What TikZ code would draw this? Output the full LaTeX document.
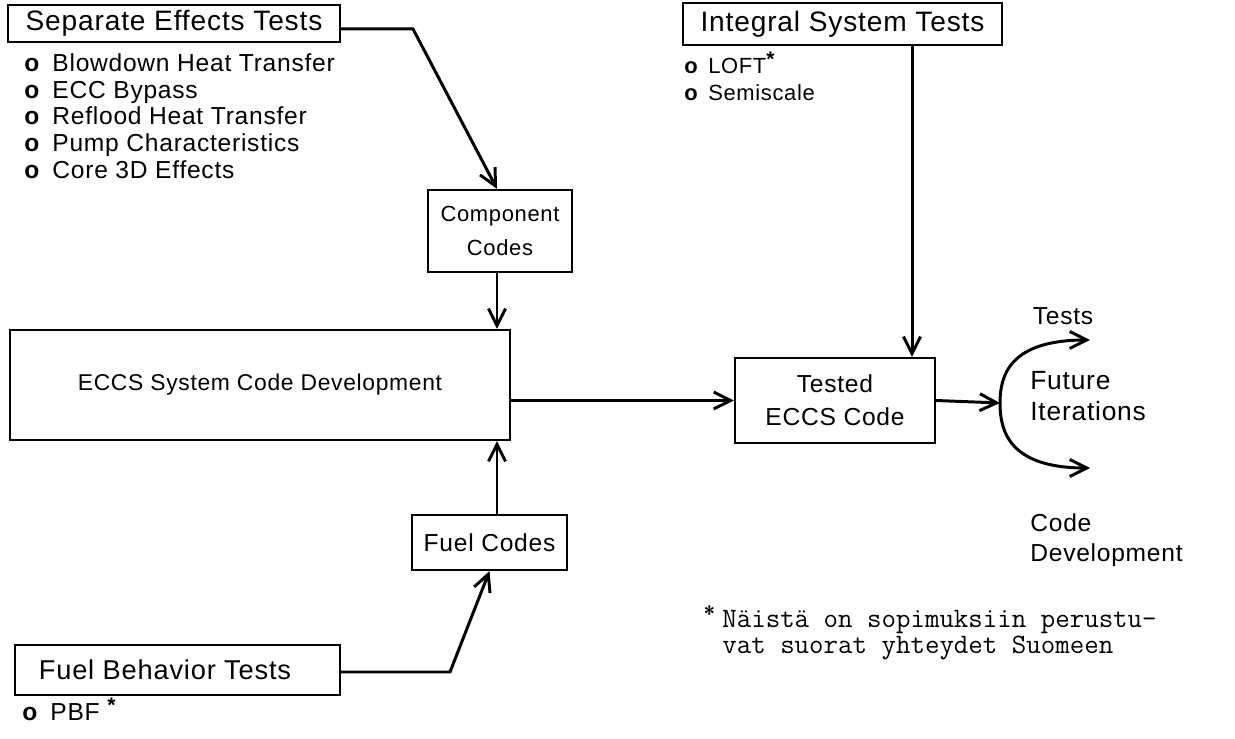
\documentclass[tikz,border=0pt]{standalone}
\usepackage{fontspec}
\setmainfont{Liberation Sans}[LetterSpace=3]
\usetikzlibrary{arrows.meta}
\newcommand{\bul}{\textbf{o}\enspace}
\newcommand{\astk}{\raisebox{0.55ex}{\bfseries\large *}}
\begin{document}
\begin{tikzpicture}[x=0.02cm,y=-0.02cm,>={Straight Barb[length=3.4mm,width=3.4mm]}]
\tikzstyle{every node}=[inner sep=0pt];
\tikzstyle{box}=[draw=black,line width=1.2pt,align=center,font=\fontsize{14}{19}\selectfont];
\tikzstyle{flow}=[->,line width=1.7pt];
\tikzstyle{items}=[anchor=north west,align=left,font=\fontsize{14}{15.3}\selectfont];
\useasboundingbox (0,0) rectangle (1235,739);
% boxes
\node[box,minimum width=6.64cm,minimum height=0.74cm,font=\fontsize{16}{19}\selectfont] (set) at (174,23.5) {Separate Effects Tests};
\node[box,minimum width=6.38cm,minimum height=0.84cm,font=\fontsize{16}{19}\selectfont] (ist) at (842.5,24) {Integral System Tests};
\node[box,minimum width=2.88cm,minimum height=1.64cm,font=\fontsize{12.5}{19}\selectfont] (comp) at (500,231) {Component\\Codes};
\node[box,minimum width=10cm,minimum height=2.2cm,font=\fontsize{13}{19}\selectfont] (eccs) at (260,385) {ECCS System Code Development};
\node[box,minimum width=4cm,minimum height=1.7cm] (tested) at (835,400.5) {Tested\\ECCS Code};
\node[box,minimum width=3.1cm,minimum height=1.1cm] (fuel) at (489.5,542.5) {Fuel Codes};
\node[box,minimum width=6.5cm,minimum height=1cm,font=\fontsize{15.5}{19}\selectfont] (fbt) at (177.5,670) {Fuel Behavior Tests\hspace{0.5cm}};
% lists
\node[items] (selist) at (24,53) {\bul Blowdown Heat Transfer\\ \bul ECC Bypass\\ \bul Reflood Heat Transfer\\ \bul Pump Characteristics\\ \bul Core 3D Effects};
\node[items,font=\fontsize{12.5}{15.3}\selectfont] (istlist) at (684,52) {\textbf{o}\hspace{0.45em}LOFT\astk\\ \textbf{o}\hspace{0.45em}Semiscale};
\node[items] (fbtlist) at (22,698) {\bul PBF \astk};
% loop at the right
\coordinate (fi) at (1000,403);
\coordinate (ft) at (1090,340);
\coordinate (fd) at (1090,468);
\node[font=\fontsize{14}{17}\selectfont] (tests) at (1063,316) {Tests};
\node[anchor=west,align=left,font=\fontsize{15}{18}\selectfont] (future) at (1030,396) {Future\\Iterations};
\node[anchor=west,align=left,font=\fontsize{14}{17}\selectfont] (codedev) at (1030,540) {Code\\Development};
\node[anchor=north west,align=left,font=\ttfamily\fontsize{16}{14.5}\selectfont] (note) at (722,605) {\llap{\sffamily\astk\hspace{0.25em}}Näistä on sopimuksiin perustu-\\vat suorat yhteydet Suomeen};
% connectors
\coordinate (k1) at (413,29);
\coordinate (k2) at (450,672);
\coordinate (mid) at (497,0);
\coordinate (drop) at (912,45);
\draw[flow] (set.east |- k1) -- (k1) -- (comp.north -| mid);
\draw[flow] (comp.south -| mid) -- (eccs.north -| mid);
\draw[flow] (fuel.north -| mid) -- (eccs.south -| mid);
\draw[flow] (fbt.east |- k2) -- (k2) -- (fuel.south);
\draw[flow] (ist.south -| drop) -- (tested.north -| drop);
\draw[flow] (eccs.east |- tested.west) -- (tested.west);
\draw[flow] (tested.east) -- (fi);
\draw[<->,line width=1.7pt] (ft) .. controls (1010,340) and (1000,375) .. (fi) .. controls (1000,432) and (1010,468) .. (fd);
\end{tikzpicture}
\end{document}
